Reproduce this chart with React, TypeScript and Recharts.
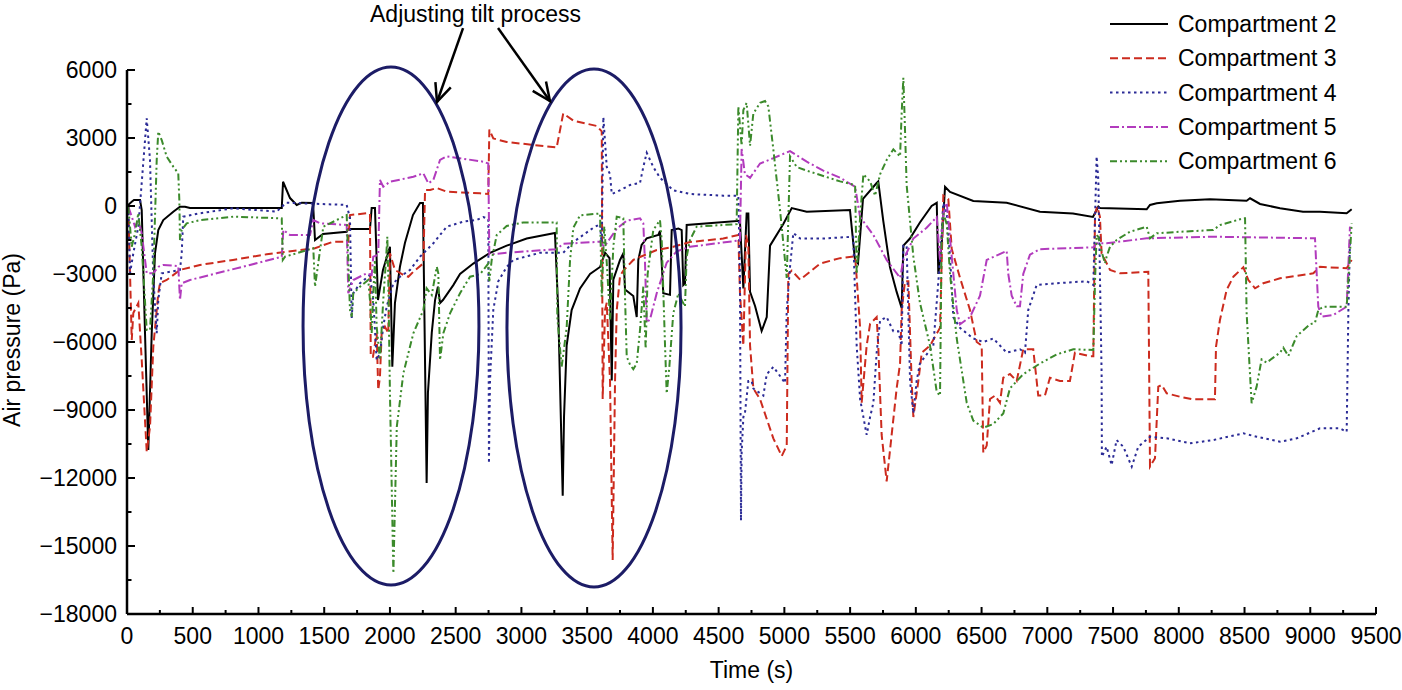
import React from 'react';
import { LineChart, Line, XAxis, YAxis, Legend } from 'recharts';

type Pt = [number, number];

// time (s), air pressure (Pa)
const comp2: Pt[] = [
  [0, 0], [36, 190], [53, 265], [99, 265], [112, -176], [137, -5615], [162, -10765], [188, -5615],
  [213, -2090], [238, -1060], [276, -620], [352, -250], [403, -30], [441, -30], [479, -90], [1177, -90],
  [1187, 1070], [1240, 350], [1291, 44], [1329, 145], [1415, 130], [1430, -1500], [1491, -1235],
  [1671, -1134], [1681, -1015], [1848, -1015], [1861, -90], [1886, -90], [1909, -4150], [1947, -2820],
  [2000, -1800], [2018, -7090], [2038, -4280], [2076, -2680], [2114, -1630], [2175, -400], [2229, 130],
  [2251, 130], [2279, -12220], [2289, -8250], [2318, -5600], [2343, -4150], [2365, -3560], [2381, -4280],
  [2403, -4150], [2482, -3490], [2533, -3000], [2634, -2540], [2761, -2065], [2888, -1750], [3040, -1435],
  [3255, -1190], [3280, -4590], [3314, -12780], [3324, -9310], [3344, -6160], [3382, -4590], [3446, -3640],
  [3522, -3000], [3598, -2690], [3636, -2060], [3670, -2300], [3687, -7700], [3699, -3250], [3750, -2380],
  [3775, -2090], [3788, -3680], [3851, -3970], [3877, -4900], [3889, -2380], [3914, -1720], [3953, -1430],
  [4041, -1280], [4054, -1100], [4079, -3850], [4130, -3920], [4143, -1060], [4194, -990], [4219, -1060],
  [4231, -3490], [4244, -3410], [4257, -840], [4662, -650], [4688, -3640], [4713, -330], [4726, -330],
  [4739, -3790], [4777, -4410], [4827, -5515], [4866, -4900], [4891, -1750], [4992, -795], [5056, -90],
  [5170, -250], [5499, -176], [5537, -2380], [5560, -2540], [5598, 310], [5702, 1015], [5714, 1085],
  [5752, -650], [5803, -2690], [5854, -3790], [5892, -4500], [5905, -1750], [5955, -1435], [6031, -725],
  [6120, 0], [6159, 140], [6171, -3000], [6196, -1750], [6222, 850], [6260, 620], [6437, 220], [6691, 140],
  [6944, -250], [7195, -330], [7347, -485], [7388, -30], [7400, -90], [7756, -145], [7781, 45], [7832, 120],
  [8009, 234], [8237, 296], [8516, 234], [8542, 340], [8618, 90], [8770, -100], [8945, -250], [9074, -250],
  [9277, -320], [9315, -145],
];

const comp3: Pt[] = [
  [10, -30], [36, -5910], [48, -4720], [86, -4280], [112, -6795], [150, -10840], [175, -9740], [200, -6210],
  [238, -3850], [251, -3400], [302, -3265], [403, -2820], [555, -2600], [806, -2380], [1063, -2130],
  [1316, -1940], [1430, -1865], [1567, -1575], [1683, -1575], [1696, -400], [1823, -320], [1848, -350],
  [1854, -6650], [1871, -6650], [1899, -5600], [1911, -8120], [1924, -7530], [1937, -5600], [1962, -5325],
  [1987, -5600], [2000, -2090], [2038, -2820], [2102, -3040], [2140, -3120], [2178, -2900], [2254, -2530],
  [2267, 705], [2305, 705], [2356, 795], [2432, 630], [2685, 560], [2748, 530], [2756, 3370], [2786, 2980],
  [2888, 2825], [3268, 2580], [3318, 4080], [3395, 3765], [3573, 3530], [3611, 3290], [3618, -8515],
  [3636, -4590], [3649, -4270], [3674, -7720], [3694, -15620], [3712, -7720], [3725, -4590], [3750, -3100],
  [3775, -2850], [3851, -2380], [3902, -2250], [4029, -1940], [4155, -1800], [4282, -1590], [4535, -1435],
  [4650, -1280], [4662, -3790], [4688, -6160], [4708, -1280], [4726, -1750], [4739, -6160], [4764, -8050],
  [4815, -8520], [4916, -10250], [4980, -11030], [5018, -10570], [5030, -3000], [5056, -2850],
  [5120, -3250], [5272, -2540], [5424, -2300], [5538, -2220], [5550, -3170], [5576, -5370], [5588, -8680],
  [5626, -6160], [5652, -5200], [5702, -4900], [5714, -6160], [5740, -10100], [5778, -12150],
  [5816, -10100], [5854, -8050], [5880, -6945], [5892, -4590], [5918, -3320], [5943, -3320], [5968, -7720],
  [5981, -9310], [6019, -7720], [6045, -6470], [6108, -6160], [6184, -5370], [6209, 455], [6247, 310],
  [6273, -1900], [6336, -3170], [6412, -4590], [6463, -6000], [6501, -6160], [6513, -10880],
  [6539, -10570], [6564, -8515], [6602, -8365], [6640, -8680], [6665, -7575], [6716, -7410], [6767, -7720],
  [6817, -6320], [6893, -6320], [6931, -8365], [6982, -8365], [7020, -7575], [7096, -7720], [7172, -7720],
  [7210, -6470], [7325, -6630], [7350, -6630], [7363, -320], [7380, -30], [7400, -470], [7413, -2090],
  [7477, -2820], [7553, -2970], [7768, -2900], [7781, -11500], [7819, -11130], [7844, -7970],
  [7870, -7900], [7908, -8265], [8009, -8415], [8110, -8530], [8275, -8530], [8283, -6210], [8313, -5030],
  [8364, -3700], [8415, -3120], [8491, -2700], [8529, -3265], [8580, -3630], [8643, -3410], [8770, -3190],
  [9023, -2970], [9074, -2680], [9277, -2750], [9315, -2380],
];

const comp4: Pt[] = [
  [10, -30], [23, -2970], [48, -2090], [86, -910], [150, 3870], [175, 2030], [200, -3120], [226, -5615],
  [238, -4150], [264, -2970], [403, -2820], [416, -2090], [428, -470], [555, -320], [809, -100],
  [1139, -250], [1177, -30], [1215, 145], [1671, 45], [1696, -540], [1709, -4955], [1721, -3850],
  [1772, -3410], [1848, -3045], [1873, -4150], [1899, -6795], [1924, -6500], [1949, -5325], [1975, -4440],
  [2026, -3410], [2076, -3120], [2153, -2820], [2229, -2235], [2330, -1645], [2432, -910], [2558, -690],
  [2660, -620], [2710, -485], [2748, -575], [2753, -11355], [2761, -7720], [2786, -4590], [2824, -3320],
  [2888, -2690], [2938, -2380], [3141, -2065], [3318, -2065], [3395, -1590], [3547, -960], [3598, -800],
  [3611, -1750], [3623, 3925], [3649, 1720], [3674, 1400], [3687, 530], [3725, 620], [3826, 925],
  [3902, 1015], [3927, 1720], [3953, 2350], [4003, 1720], [4054, 1245], [4155, 690], [4282, 530],
  [4535, 455], [4650, 455], [4662, -3000], [4670, -13880], [4675, -10885], [4688, -9310], [4700, -9150],
  [4726, -7720], [4751, -7720], [4764, -8050], [4840, -8365], [4866, -7420], [4916, -7100], [4967, -7500],
  [5005, -7810], [5018, -4590], [5043, -2690], [5068, -1190], [5120, -1435], [5296, -1435], [5524, -1355],
  [5550, -6160], [5576, -8515], [5626, -10100], [5652, -9310], [5677, -8680], [5702, -6470], [5728, -5055],
  [5778, -4900], [5829, -5530], [5867, -5530], [5892, -6160], [5905, -1750], [5930, -1750], [5956, -7720],
  [5981, -9150], [6006, -7720], [6031, -6945], [6133, -6160], [6184, -2380], [6209, 140], [6235, -330],
  [6260, -2225], [6285, -4900], [6336, -5375], [6437, -5845], [6513, -6000], [6589, -5845], [6691, -6470],
  [6792, -6320], [6830, -6470], [6855, -4590], [6919, -3485], [7071, -3410], [7299, -3320], [7350, -3485],
  [7375, 2190], [7388, 1150], [7413, -7380], [7415, -11060], [7451, -10620], [7489, -11430],
  [7527, -10325], [7578, -10620], [7642, -11500], [7692, -10620], [7781, -10180], [7908, -10250],
  [8085, -10470], [8262, -10325], [8491, -10030], [8593, -10180], [8770, -10400], [8897, -10250],
  [9074, -9810], [9226, -9810], [9277, -9960], [9290, -4590], [9302, -1500],
];

const comp5: Pt[] = [
  [10, -30], [36, -470], [61, -910], [86, -620], [112, -1205], [150, -2970], [200, -2970], [238, -2680],
  [276, -2600], [390, -2650], [403, -4150], [416, -3410], [479, -3265], [682, -2970], [935, -2600],
  [1177, -2235], [1189, -1060], [1240, -1280], [1392, -1280], [1417, -620], [1468, -765], [1671, -840],
  [1683, -3850], [1721, -3265], [1823, -2970], [1861, -3045], [1873, -2235], [1911, -2160], [1924, 1150],
  [1949, 850], [2000, 1070], [2178, 1290], [2254, 1440], [2292, 1000], [2330, 1150], [2381, 2030],
  [2432, 2190], [2710, 1955], [2748, 1875], [2756, -2145], [2888, -2065], [3268, -1905], [3318, -1670],
  [3598, -1575], [3630, -1800], [3725, -1000], [3801, -650], [3902, -540], [3927, -760], [3940, -2500],
  [3953, -5150], [3978, -5000], [4029, -3850], [4105, -2500], [4181, -2000], [4282, -1800], [4662, -1515],
  [4675, 2515], [4700, 1400], [4739, 1245], [4815, 1875], [4916, 2110], [5043, 2425], [5170, 1955],
  [5296, 1560], [5424, 1245], [5538, 850], [5576, -485], [5677, -1280], [5778, -2380], [5880, -3170],
  [5905, -2380], [5981, -1435], [6082, -960], [6159, -485], [6184, -2380], [6209, -330], [6235, 140],
  [6260, -1435], [6311, -4590], [6336, -5215], [6412, -4900], [6488, -3955], [6539, -2380], [6691, -1985],
  [6703, -3000], [6729, -3955], [6767, -4425], [6792, -4425], [6817, -3000], [6868, -2145], [6944, -1905],
  [7350, -1825], [7375, -1645], [7451, -1645], [7756, -1425], [8262, -1355], [9036, -1425], [9061, -4440],
  [9087, -4885], [9175, -4810], [9277, -4440], [9302, -910],
];

const comp6: Pt[] = [
  [10, -30], [36, -1795], [61, -1205], [86, -320], [112, -1795], [150, -5470], [175, -5470], [200, -2970],
  [226, 2030], [238, 3280], [264, 2910], [302, 2175], [352, 1735], [390, 1440], [398, 265], [403, -1500],
  [416, -1060], [454, -765], [555, -620], [809, -470], [1177, -545], [1185, -2380], [1202, -2235],
  [1417, -1865], [1430, -3560], [1493, -915], [1671, -400], [1696, -4590], [1709, -4885], [1721, -3850],
  [1772, -3560], [1835, -3265], [1848, -4150], [1861, -5615], [1873, -3850], [1886, -2380], [1899, -5325],
  [1924, -6795], [1949, -4150], [1970, -2380], [1980, -1355], [1987, -3120], [2000, -8265], [2026, -16205],
  [2052, -9740], [2102, -7380], [2178, -5615], [2254, -4590], [2279, -3630], [2318, -3925], [2356, -2680],
  [2368, -2970], [2381, -6795], [2406, -5615], [2457, -4735], [2533, -3850], [2609, -3120], [2685, -3010],
  [2748, -2540], [2756, -3320], [2774, -2380], [2812, -1280], [2888, -880], [3014, -725], [3268, -725],
  [3273, -4900], [3306, -7100], [3344, -5375], [3370, -2380], [3395, -960], [3446, -410], [3598, -330],
  [3611, -4000], [3630, -900], [3649, -2500], [3674, -5000], [3699, -1800], [3725, -470], [3775, -545],
  [3788, -4000], [3801, -6650], [3826, -7000], [3851, -7200], [3877, -6950], [3902, -5470], [3927, -3560],
  [3945, -6300], [3960, -3000], [4003, -1060], [4054, -620], [4067, -1500], [4092, -6100], [4105, -8270],
  [4125, -7100], [4155, -4735], [4194, -3850], [4219, -4150], [4244, -4440], [4257, -2235], [4282, -1500],
  [4333, -910], [4637, -800], [4650, 4395], [4675, 2660], [4688, 4235], [4713, 4550], [4739, 2660],
  [4764, 4080], [4815, 4550], [4853, 4630], [4878, 4395], [4916, 2500], [4967, -175], [5018, -3170],
  [5043, 2190], [5094, 1720], [5170, 1560], [5296, 1325], [5424, 1085], [5538, 925], [5550, -3000],
  [5576, -485], [5601, 1400], [5652, 1085], [5690, 455], [5728, 1400], [5778, 2030], [5829, 2500],
  [5880, 2190], [5892, 4080], [5905, 5655], [5918, 3290], [5930, 925], [5981, -2225], [6031, -4270],
  [6108, -6160], [6159, -8205], [6184, -8365], [6196, -1435], [6209, -330], [6235, -800], [6260, -3000],
  [6311, -5845], [6387, -8680], [6437, -9470], [6513, -9780], [6589, -9620], [6665, -9150], [6716, -8045],
  [6817, -7420], [6944, -6950], [7071, -6550], [7198, -6320], [7350, -6355], [7363, -3265], [7375, -1280],
  [7388, -1355], [7413, -2015], [7439, -2530], [7451, -2235], [7477, -1795], [7527, -1500], [7629, -1135],
  [7756, -915], [7781, -1425], [7832, -1205], [8009, -1135], [8262, -1060], [8313, -840], [8491, -545],
  [8504, -545], [8516, -4735], [8554, -8705], [8592, -7970], [8630, -6765], [8668, -6910], [8770, -6470],
  [8795, -6250], [8833, -6620], [8897, -5735], [8998, -5220], [9036, -5150], [9061, -4590], [9100, -4440],
  [9277, -4440], [9290, -3265], [9315, -765],
];

const xTicks = Array.from({ length: 39 }, (_, i) => i * 250);
const yTicks = Array.from({ length: 17 }, (_, i) => -18000 + i * 1500);

const series = [
  { name: 'Compartment 2', data: comp2, color: '#000000', dash: undefined as string | undefined },
  { name: 'Compartment 3', data: comp3, color: '#cc2b1e', dash: '8 4' },
  { name: 'Compartment 4', data: comp4, color: '#2b2b96', dash: '2.5 3.5' },
  { name: 'Compartment 5', data: comp5, color: '#b23bbd', dash: '9 3 2 3' },
  { name: 'Compartment 6', data: comp6, color: '#3b8a2b', dash: '7 3 2 3 2 3' },
];

const W = 1402;
const H = 690;
const PLOT = { left: 127, top: 70, right: 1376, bottom: 614 };
const X_DOMAIN: [number, number] = [0, 9500];
const Y_DOMAIN: [number, number] = [-18000, 6000];
const FONT = '"Liberation Sans", Arial, Helvetica, sans-serif';

// annotation geometry in data units
const ellipses = [
  { t: 2008, p: -5294, rt: 669, rp: 11427 },
  { t: 3552, p: -5383, rt: 662, rp: 11427 },
];
const arrows = [
  { from: [2556, 7850], to: [2358, 4589] },
  { from: [2822, 7850], to: [3217, 4633] },
];

const sx = (t: number) => PLOT.left + ((t - X_DOMAIN[0]) / (X_DOMAIN[1] - X_DOMAIN[0])) * (PLOT.right - PLOT.left);
const sy = (p: number) => PLOT.top + ((Y_DOMAIN[1] - p) / (Y_DOMAIN[1] - Y_DOMAIN[0])) * (PLOT.bottom - PLOT.top);

const fmt = (v: number) => (v < 0 ? '\u2212' + Math.abs(v) : String(v));

const YTick = (props: any) => {
  const { x, y, payload } = props;
  const major = payload.value % 3000 === 0;
  return (
    <g>
      <line x1={x} x2={x + (major ? 8 : 4.5)} y1={y} y2={y} stroke="#000" strokeWidth={2} />
      {major && (
        <text x={x - 10} y={y} dy="0.35em" textAnchor="end" fontSize={23} fontFamily={FONT} fill="#000">
          {fmt(payload.value)}
        </text>
      )}
    </g>
  );
};

const XTick = (props: any) => {
  const { x, y, payload } = props;
  const major = payload.value % 500 === 0;
  return (
    <g>
      <line x1={x} x2={x} y1={y} y2={y - (major ? 7 : 4)} stroke="#000" strokeWidth={2} />
      {major && (
        <text x={x} y={y + 14} dy="0.71em" textAnchor="middle" fontSize={23} fontFamily={FONT} fill="#000">
          {payload.value}
        </text>
      )}
    </g>
  );
};

const LegendBox = () => (
  <svg width={290} height={175}>
    {series.map((s, i) => {
      const y = 16 + i * 34.3;
      return (
        <g key={s.name}>
          <line x1={5} x2={63} y1={y} y2={y} stroke={s.color} strokeWidth={2} strokeDasharray={s.dash} />
          <text x={73} y={y} dy="0.35em" fontSize={23} fontFamily={FONT} fill="#000">
            {s.name}
          </text>
        </g>
      );
    })}
  </svg>
);

const arrowHead = (x1: number, y1: number, x2: number, y2: number) => {
  const a = Math.atan2(y2 - y1, x2 - x1);
  const len = 20;
  const spread = 0.42;
  const p1 = [x2 - len * Math.cos(a - spread), y2 - len * Math.sin(a - spread)];
  const p2 = [x2 - len * Math.cos(a + spread), y2 - len * Math.sin(a + spread)];
  return `M${p1[0]},${p1[1]} L${x2},${y2} L${p2[0]},${p2[1]}`;
};

const Overlay = () => (
  <svg width={W} height={H} style={{ position: 'absolute', left: 0, top: 0, pointerEvents: 'none' }}>
    {ellipses.map((e, i) => (
      <ellipse
        key={i}
        cx={sx(e.t)}
        cy={sy(e.p)}
        rx={sx(e.t + e.rt) - sx(e.t)}
        ry={sy(e.p - e.rp) - sy(e.p)}
        fill="none"
        stroke="#1c1c66"
        strokeWidth={3}
      />
    ))}
    {arrows.map((a, i) => {
      const x1 = sx(a.from[0]);
      const y1 = sy(a.from[1]);
      const x2 = sx(a.to[0]);
      const y2 = sy(a.to[1]);
      return (
        <g key={i} stroke="#000" strokeWidth={2.5} fill="none">
          <line x1={x1} y1={y1} x2={x2} y2={y2} />
          <path d={arrowHead(x1, y1, x2, y2)} />
        </g>
      );
    })}
    <text x={370} y={22} fontSize={23} fontFamily={FONT} fill="#000">
      Adjusting tilt process
    </text>
  </svg>
);

export default function App() {
  return (
    <div style={{ position: 'absolute', left: 0, top: 0, width: W, height: H, background: '#fff', fontFamily: FONT }}>
      <LineChart width={W} height={H} margin={{ top: 70, right: 26, bottom: 46, left: 0 }}>
        <XAxis
          type="number"
          dataKey="t"
          domain={X_DOMAIN}
          allowDataOverflow
          ticks={xTicks}
          interval={0}
          tickSize={0}
          tickMargin={0}
          tickLine={false}
          tick={<XTick />}
          height={30}
          axisLine={{ stroke: '#000', strokeWidth: 2.5 }}
          label={{
            content: (p: any) => (
              <text
                x={p.viewBox.x + p.viewBox.width / 2}
                y={p.viewBox.y + 64}
                textAnchor="middle"
                fontSize={23}
                fontFamily={FONT}
                fill="#000"
              >
                Time (s)
              </text>
            ),
          }}
        />
        <YAxis
          type="number"
          domain={Y_DOMAIN}
          allowDataOverflow
          ticks={yTicks}
          interval={0}
          tickSize={0}
          tickMargin={0}
          tickLine={false}
          tick={<YTick />}
          width={127}
          axisLine={{ stroke: '#000', strokeWidth: 2.5 }}
          label={{
            content: (p: any) => {
              const cy = p.viewBox.y + p.viewBox.height / 2 - 2;
              return (
                <text
                  x={20}
                  y={cy}
                  transform={`rotate(-90, 20, ${cy})`}
                  textAnchor="middle"
                  fontSize={23}
                  fontFamily={FONT}
                  fill="#000"
                >
                  Air pressure (Pa)
                </text>
              );
            },
          }}
        />
        {series.map((s) => (
          <Line
            key={s.name}
            name={s.name}
            data={s.data.map(([t, p]) => ({ t, p }))}
            dataKey="p"
            type="linear"
            stroke={s.color}
            strokeWidth={2}
            strokeDasharray={s.dash}
            dot={false}
            activeDot={false}
            isAnimationActive={false}
          />
        ))}
        <Legend
          layout="vertical"
          align="center"
          verticalAlign="middle"
          content={<LegendBox />}
          wrapperStyle={{ position: 'absolute', left: 1105, top: 8, width: 290, height: 175 }}
        />
      </LineChart>
      <Overlay />
    </div>
  );
}
